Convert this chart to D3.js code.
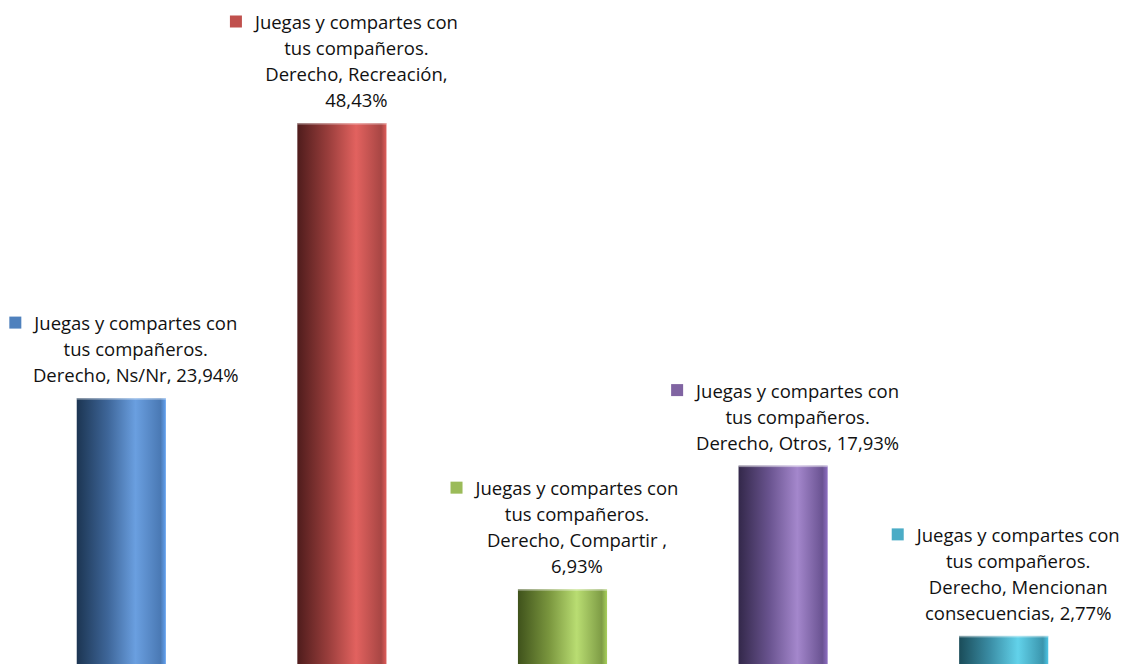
<!DOCTYPE html>
<html><head><meta charset="utf-8">
<script src="https://cdn.jsdelivr.net/npm/d3@7"></script>
<style>html,body{margin:0;padding:0;background:#fff;overflow:hidden}</style>
</head><body>
<svg id="chart" width="1125" height="664"></svg>
<script>
const categories = ["Ns/Nr", "Recreación", "Compartir ", "Otros", "Mencionan consecuencias"];
const values = [23.94, 48.43, 6.93, 17.93, 2.77];
const seriesName = "Juegas y compartes con tus compañeros. Derecho";
const labelLines = [
  ["Juegas y compartes con", "tus compañeros.", "Derecho, Ns/Nr, 23,94%"],
  ["Juegas y compartes con", "tus compañeros.", "Derecho, Recreación,", "48,43%"],
  ["Juegas y compartes con", "tus compañeros.", "Derecho, Compartir ,", "6,93%"],
  ["Juegas y compartes con", "tus compañeros.", "Derecho, Otros, 17,93%"],
  ["Juegas y compartes con", "tus compañeros.", "Derecho, Mencionan", "consecuencias, 2,77%"]
];
const colors = ["#4f81bd", "#c0504d", "#9bbb59", "#8064a2", "#4bacc6"];
const gradStops = [
  ["#1c3552", "#3e6699", "#6a9fe0", "#4a79b4"],
  ["#4f1c1c", "#9a3e3c", "#e2625f", "#a84644"],
  ["#3f521b", "#7a963e", "#b9dd72", "#7e9c45"],
  ["#33284a", "#6a5490", "#a487cc", "#6a5392"],
  ["#1a4c59", "#3b8ea6", "#62d2ea", "#3a95ad"]
];

const W = 1125, H = 664;
const svg = d3.select("#chart");
const x = d3.scaleBand().domain(categories).range([11, 1114]).paddingInner(0.596).paddingOuter(0.298);
const y = d3.scaleLinear().domain([0, 48.43]).range([667, 123]);

const defs = svg.append("defs");
gradStops.forEach((s, i) => {
  const g = defs.append("linearGradient").attr("id", "g" + i).attr("x1", "0").attr("x2", "1").attr("y1", "0").attr("y2", "0");
  g.append("stop").attr("offset", "0%").attr("stop-color", s[0]);
  g.append("stop").attr("offset", "35%").attr("stop-color", s[1]);
  g.append("stop").attr("offset", "66%").attr("stop-color", s[2]);
  g.append("stop").attr("offset", "94%").attr("stop-color", s[3]);
  g.append("stop").attr("offset", "100%").attr("stop-color", d3.color(s[3]).brighter(0.8));
});

const bars = svg.append("g").selectAll("g").data(values).join("g");
bars.append("rect")
  .attr("x", (d, i) => x(categories[i]))
  .attr("y", d => y(d))
  .attr("width", x.bandwidth())
  .attr("height", d => y(0) - y(d))
  .attr("fill", (d, i) => `url(#g${i})`);
bars.append("rect")
  .attr("x", (d, i) => x(categories[i]))
  .attr("y", d => y(d))
  .attr("width", x.bandwidth())
  .attr("height", 1.5)
  .attr("fill", "#ffffff").attr("opacity", 0.45);

const lh = 26, fs = 18.5;
const labels = svg.append("g").attr("font-family", "'Open Sans', sans-serif").attr("font-size", fs).attr("fill", "#111");
values.forEach((v, i) => {
  const cx = x(categories[i]) + x.bandwidth() / 2 + 14.5;
  const lines = labelLines[i];
  const lastBase = y(v) - 16;
  const g = labels.append("g");
  lines.forEach((t, j) => {
    const base = lastBase - (lines.length - 1 - j) * lh;
    const txt = g.append("text").attr("x", cx).attr("y", base).attr("text-anchor", "middle").text(t);
    if (j === 0) {
      const w = txt.node().getComputedTextLength();
      g.append("rect").attr("x", cx - w / 2 - 25).attr("y", base - 13.5).attr("width", 12).attr("height", 12).attr("fill", colors[i]);
    }
  });
});
</script>
</body></html>
